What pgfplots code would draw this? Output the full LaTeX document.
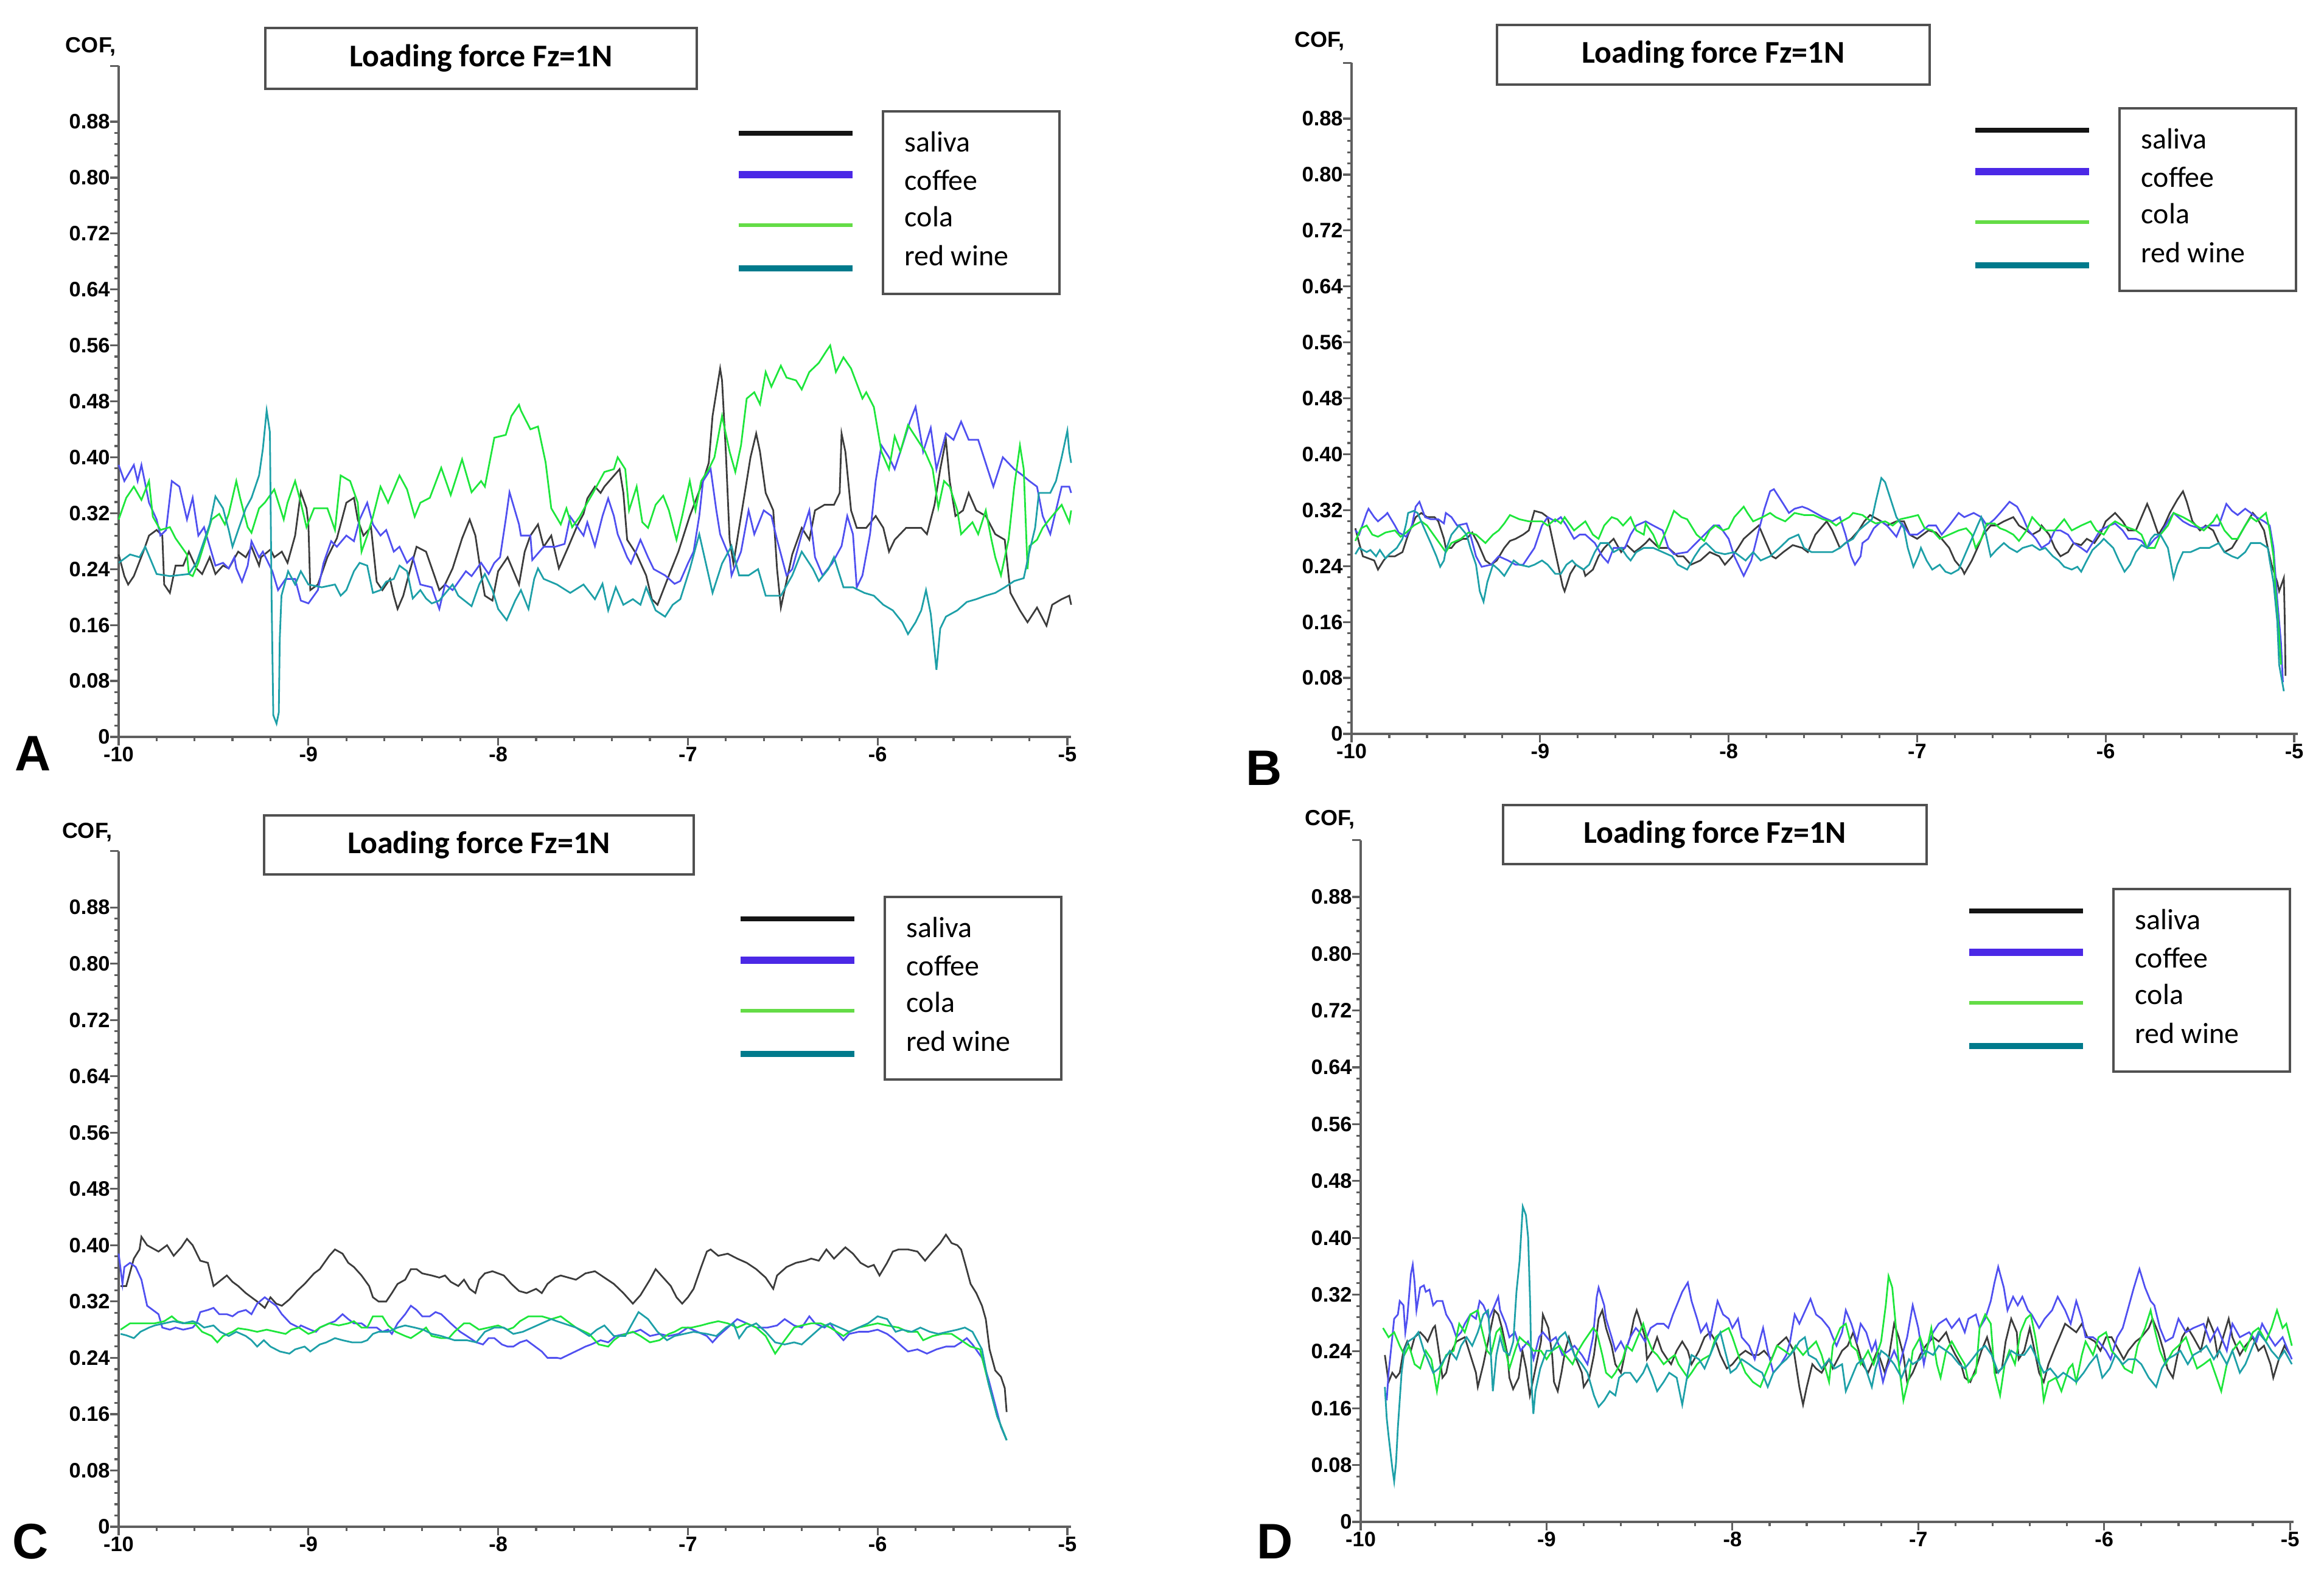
\documentclass[border=0pt]{standalone}
\usepackage{fontspec}
\setmainfont{Liberation Sans}
\newfontfamily\carlito{Carlito}
\usepackage{pgfplots}
\pgfplotsset{compat=1.18}
\definecolor{axgray}{RGB}{95,95,95}
\definecolor{boxgray}{RGB}{80,80,80}
\definecolor{cSal}{RGB}{60,60,60}
\definecolor{cCof}{RGB}{80,80,240}
\definecolor{cCola}{RGB}{30,230,60}
\definecolor{cWine}{RGB}{30,160,168}
\definecolor{lSal}{RGB}{20,20,20}
\definecolor{lCof}{RGB}{75,40,230}
\definecolor{lCola}{RGB}{100,220,70}
\definecolor{lWine}{RGB}{0,122,140}
\pgfplotsset{
  cof/.style={
    scale only axis, anchor=south west,
    xmin=-10, xmax=-4.98, ymin=0, ymax=0.96,
    axis lines=left,
    axis line style={-, draw=axgray, line width=1pt},
    every outer x axis line/.append style={-},
    every outer y axis line/.append style={-},
    every inner x axis line/.append style={-},
    every inner y axis line/.append style={-},
    xtick={-10,-9,-8,-7,-6,-5},
    xticklabels={-10,-9,-8,-7,-6,-5},
    ytick={0,0.08,0.16,0.24,0.32,0.40,0.48,0.56,0.64,0.72,0.80,0.88},
    yticklabels={0,0.08,0.16,0.24,0.32,0.40,0.48,0.56,0.64,0.72,0.80,0.88},
    extra y ticks={0.96}, extra y tick labels={},
    minor x tick num=4, minor y tick num=4,
    tick align=outside,
    major tick length=3.5pt, minor tick length=1.8pt,
    tick style={draw=axgray, line width=0.8pt},
    ticklabel style={font=\fontsize{8.6}{10}\selectfont\bfseries, text=black, inner sep=1pt},
    xticklabel style={yshift=0.6pt},
    yticklabel style={xshift=1.1pt},
    clip=false,
    every axis plot/.append style={line width=0.7pt, mark=none},
  }
}
\newcommand{\legendbox}[2]{%
  \begin{scope}[shift={(#1,#2)}]
    \draw[boxgray, line width=0.8pt] (0,0) rectangle (290,300);
    \draw[lSal, line width=2pt] (-237,36) -- (-50,36);
    \draw[lCof, line width=3.2pt] (-237,104) -- (-50,104);
    \draw[lCola, line width=1.5pt] (-237,187) -- (-50,187);
    \draw[lWine, line width=2.5pt] (-237,258) -- (-50,258);
    \node[anchor=base west, inner sep=0pt, font=\carlito\fontsize{12}{14}\selectfont] at (35,67) {saliva};
    \node[anchor=base west, inner sep=0pt, font=\carlito\fontsize{12}{14}\selectfont] at (35,130) {coffee};
    \node[anchor=base west, inner sep=0pt, font=\carlito\fontsize{12}{14}\selectfont] at (35,190) {cola};
    \node[anchor=base west, inner sep=0pt, font=\carlito\fontsize{12}{14}\selectfont] at (35,254) {red wine};
  \end{scope}}
\newcommand{\titlebox}[4]{%
  \draw[boxgray, line width=0.9pt] (#1,#2) rectangle (#3,#4);
  \node[font=\carlito\bfseries\fontsize{13}{15}\selectfont] at ({(#1+#3)/2},{(#2+#4)/2}) {Loading force Fz=1N};}
\begin{document}
\begin{tikzpicture}
\useasboundingbox (0,0) rectangle (954.75pt,652pt);
% ---------------- A ----------------
\begin{axis}[cof, at={(48.75pt,349.25pt)}, width=391.3pt, height=275.7pt]
\addplot[cSal] coordinates {(-10,0.261)(-9.97,0.230)(-9.95,0.218)(-9.92,0.230)(-9.87,0.265)(-9.84,0.288)(-9.80,0.296)(-9.77,0.288)(-9.76,0.218)(-9.73,0.206)(-9.70,0.245)(-9.66,0.245)(-9.63,0.265)(-9.59,0.241)(-9.56,0.233)(-9.52,0.257)(-9.49,0.233)(-9.45,0.245)(-9.42,0.241)(-9.37,0.265)(-9.33,0.257)(-9.30,0.272)(-9.26,0.245)(-9.25,0.257)(-9.20,0.268)(-9.18,0.257)(-9.14,0.265)(-9.11,0.249)(-9.07,0.288)(-9.04,0.350)(-9.01,0.327)(-9.00,0.304)(-8.99,0.210)(-8.95,0.218)(-8.90,0.257)(-8.85,0.284)(-8.80,0.335)(-8.76,0.342)(-8.74,0.311)(-8.71,0.288)(-8.67,0.300)(-8.64,0.222)(-8.61,0.210)(-8.57,0.226)(-8.55,0.202)(-8.53,0.183)(-8.50,0.202)(-8.47,0.233)(-8.43,0.272)(-8.38,0.265)(-8.33,0.226)(-8.31,0.210)(-8.28,0.218)(-8.24,0.241)(-8.19,0.284)(-8.15,0.311)(-8.12,0.288)(-8.09,0.233)(-8.07,0.202)(-8.03,0.195)(-8.00,0.237)(-7.95,0.257)(-7.89,0.218)(-7.86,0.265)(-7.83,0.288)(-7.79,0.304)(-7.76,0.272)(-7.72,0.288)(-7.68,0.241)(-7.63,0.272)(-7.58,0.304)(-7.55,0.319)(-7.53,0.341)(-7.49,0.358)(-7.46,0.349)(-7.44,0.358)(-7.36,0.383)(-7.34,0.349)(-7.32,0.282)(-7.27,0.261)(-7.22,0.231)(-7.19,0.197)(-7.16,0.189)(-7.10,0.231)(-7.05,0.265)(-6.99,0.316)(-6.92,0.366)(-6.89,0.392)(-6.87,0.459)(-6.84,0.510)(-6.83,0.527)(-6.82,0.510)(-6.80,0.408)(-6.78,0.282)(-6.76,0.248)(-6.73,0.299)(-6.70,0.349)(-6.67,0.400)(-6.64,0.434)(-6.62,0.408)(-6.59,0.349)(-6.55,0.324)(-6.53,0.240)(-6.51,0.185)(-6.48,0.223)(-6.45,0.261)(-6.40,0.299)(-6.36,0.282)(-6.33,0.324)(-6.28,0.332)(-6.23,0.332)(-6.20,0.349)(-6.19,0.434)(-6.17,0.408)(-6.14,0.324)(-6.11,0.299)(-6.06,0.299)(-6.01,0.316)(-5.97,0.299)(-5.94,0.265)(-5.91,0.282)(-5.85,0.299)(-5.77,0.299)(-5.74,0.290)(-5.70,0.332)(-5.67,0.383)(-5.64,0.425)(-5.62,0.366)(-5.59,0.316)(-5.55,0.324)(-5.52,0.349)(-5.48,0.324)(-5.43,0.316)(-5.38,0.290)(-5.33,0.282)(-5.30,0.206)(-5.25,0.181)(-5.21,0.164)(-5.16,0.185)(-5.11,0.159)(-5.08,0.189)(-5.03,0.197)(-4.99,0.202)(-4.98,0.189)};
\addplot[cCof] coordinates {(-10,0.389)(-9.97,0.366)(-9.92,0.389)(-9.90,0.366)(-9.88,0.389)(-9.84,0.335)(-9.80,0.311)(-9.78,0.288)(-9.75,0.296)(-9.72,0.366)(-9.68,0.358)(-9.64,0.311)(-9.61,0.342)(-9.58,0.288)(-9.55,0.300)(-9.49,0.245)(-9.45,0.249)(-9.42,0.241)(-9.39,0.257)(-9.38,0.241)(-9.35,0.222)(-9.32,0.245)(-9.30,0.280)(-9.26,0.257)(-9.24,0.265)(-9.19,0.237)(-9.16,0.210)(-9.12,0.226)(-9.07,0.226)(-9.04,0.195)(-9.00,0.191)(-8.95,0.210)(-8.92,0.249)(-8.88,0.280)(-8.85,0.272)(-8.80,0.288)(-8.76,0.280)(-8.73,0.311)(-8.69,0.335)(-8.66,0.304)(-8.62,0.288)(-8.59,0.296)(-8.55,0.265)(-8.52,0.272)(-8.48,0.249)(-8.45,0.257)(-8.41,0.218)(-8.35,0.214)(-8.31,0.183)(-8.28,0.218)(-8.24,0.210)(-8.17,0.237)(-8.14,0.230)(-8.09,0.249)(-8.05,0.233)(-8.02,0.249)(-7.99,0.257)(-7.96,0.311)(-7.94,0.350)(-7.89,0.304)(-7.88,0.288)(-7.83,0.288)(-7.82,0.253)(-7.76,0.272)(-7.70,0.272)(-7.65,0.276)(-7.62,0.315)(-7.55,0.288)(-7.53,0.307)(-7.49,0.273)(-7.45,0.316)(-7.42,0.341)(-7.39,0.316)(-7.37,0.290)(-7.32,0.257)(-7.30,0.248)(-7.25,0.282)(-7.21,0.257)(-7.18,0.240)(-7.12,0.231)(-7.07,0.219)(-7.04,0.223)(-7.00,0.248)(-6.97,0.265)(-6.94,0.316)(-6.92,0.366)(-6.88,0.383)(-6.85,0.324)(-6.83,0.290)(-6.78,0.257)(-6.77,0.231)(-6.72,0.265)(-6.68,0.324)(-6.65,0.290)(-6.60,0.324)(-6.56,0.316)(-6.53,0.282)(-6.48,0.231)(-6.45,0.240)(-6.40,0.290)(-6.36,0.324)(-6.33,0.257)(-6.29,0.231)(-6.24,0.248)(-6.19,0.273)(-6.16,0.316)(-6.13,0.290)(-6.11,0.214)(-6.08,0.231)(-6.04,0.290)(-6.01,0.366)(-5.98,0.417)(-5.94,0.400)(-5.91,0.383)(-5.86,0.425)(-5.83,0.451)(-5.80,0.472)(-5.76,0.408)(-5.72,0.442)(-5.69,0.383)(-5.64,0.434)(-5.60,0.425)(-5.56,0.451)(-5.52,0.425)(-5.47,0.425)(-5.42,0.383)(-5.39,0.358)(-5.34,0.400)(-5.28,0.383)(-5.24,0.375)(-5.20,0.366)(-5.16,0.358)(-5.13,0.316)(-5.09,0.290)(-5.06,0.324)(-5.03,0.358)(-4.99,0.358)(-4.98,0.349)};
\addplot[cCola] coordinates {(-10,0.311)(-9.96,0.342)(-9.92,0.358)(-9.88,0.339)(-9.84,0.366)(-9.82,0.315)(-9.78,0.296)(-9.73,0.300)(-9.70,0.284)(-9.64,0.261)(-9.63,0.233)(-9.61,0.230)(-9.58,0.249)(-9.54,0.284)(-9.51,0.311)(-9.47,0.319)(-9.44,0.304)(-9.42,0.319)(-9.38,0.366)(-9.36,0.342)(-9.32,0.300)(-9.30,0.292)(-9.26,0.327)(-9.23,0.335)(-9.18,0.354)(-9.13,0.311)(-9.11,0.335)(-9.07,0.366)(-9.04,0.335)(-9.01,0.300)(-8.97,0.327)(-8.90,0.327)(-8.86,0.296)(-8.83,0.374)(-8.78,0.366)(-8.74,0.335)(-8.72,0.265)(-8.69,0.288)(-8.66,0.315)(-8.62,0.358)(-8.58,0.335)(-8.52,0.374)(-8.48,0.354)(-8.44,0.315)(-8.41,0.335)(-8.36,0.342)(-8.30,0.385)(-8.25,0.346)(-8.19,0.397)(-8.14,0.350)(-8.09,0.366)(-8.07,0.358)(-8.02,0.428)(-7.96,0.432)(-7.93,0.459)(-7.89,0.475)(-7.88,0.467)(-7.83,0.440)(-7.79,0.444)(-7.75,0.393)(-7.72,0.327)(-7.67,0.304)(-7.64,0.327)(-7.61,0.300)(-7.57,0.315)(-7.53,0.335)(-7.50,0.349)(-7.44,0.379)(-7.39,0.383)(-7.37,0.400)(-7.33,0.383)(-7.31,0.324)(-7.27,0.358)(-7.24,0.307)(-7.21,0.299)(-7.17,0.332)(-7.13,0.345)(-7.10,0.324)(-7.06,0.282)(-7.03,0.316)(-6.99,0.366)(-6.96,0.324)(-6.93,0.366)(-6.89,0.383)(-6.86,0.400)(-6.82,0.459)(-6.78,0.408)(-6.75,0.379)(-6.72,0.417)(-6.69,0.484)(-6.65,0.493)(-6.62,0.476)(-6.59,0.522)(-6.56,0.501)(-6.51,0.531)(-6.48,0.514)(-6.43,0.510)(-6.40,0.497)(-6.36,0.522)(-6.31,0.535)(-6.27,0.552)(-6.25,0.560)(-6.22,0.522)(-6.18,0.543)(-6.14,0.527)(-6.08,0.484)(-6.06,0.493)(-6.02,0.472)(-5.98,0.408)(-5.94,0.383)(-5.91,0.430)(-5.88,0.408)(-5.84,0.446)(-5.79,0.425)(-5.75,0.408)(-5.71,0.383)(-5.68,0.328)(-5.65,0.366)(-5.62,0.358)(-5.58,0.324)(-5.56,0.290)(-5.50,0.307)(-5.47,0.290)(-5.43,0.324)(-5.40,0.282)(-5.38,0.257)(-5.35,0.231)(-5.31,0.282)(-5.28,0.358)(-5.25,0.417)(-5.23,0.383)(-5.21,0.240)(-5.20,0.273)(-5.16,0.282)(-5.13,0.299)(-5.08,0.316)(-5.03,0.332)(-4.99,0.307)(-4.98,0.324)};
\addplot[cWine] coordinates {(-10,0.249)(-9.94,0.261)(-9.89,0.257)(-9.86,0.272)(-9.80,0.233)(-9.73,0.230)(-9.63,0.233)(-9.59,0.249)(-9.52,0.304)(-9.49,0.344)(-9.45,0.327)(-9.42,0.296)(-9.40,0.272)(-9.37,0.296)(-9.33,0.327)(-9.30,0.342)(-9.26,0.374)(-9.24,0.412)(-9.22,0.467)(-9.203,0.436)(-9.194,0.198)(-9.185,0.031)(-9.168,0.019)(-9.156,0.035)(-9.151,0.140)(-9.142,0.202)(-9.107,0.237)(-9.07,0.218)(-9.04,0.237)(-9.00,0.218)(-8.93,0.214)(-8.86,0.218)(-8.83,0.202)(-8.80,0.210)(-8.76,0.237)(-8.73,0.249)(-8.69,0.245)(-8.66,0.206)(-8.62,0.210)(-8.59,0.222)(-8.55,0.226)(-8.52,0.245)(-8.48,0.237)(-8.45,0.198)(-8.41,0.210)(-8.38,0.198)(-8.35,0.191)(-8.31,0.195)(-8.24,0.218)(-8.21,0.202)(-8.14,0.187)(-8.10,0.218)(-8.07,0.233)(-8.03,0.210)(-8.00,0.183)(-7.955,0.167)(-7.91,0.195)(-7.88,0.210)(-7.84,0.183)(-7.81,0.226)(-7.79,0.241)(-7.76,0.226)(-7.69,0.218)(-7.62,0.206)(-7.55,0.218)(-7.49,0.197)(-7.45,0.219)(-7.42,0.181)(-7.38,0.214)(-7.34,0.189)(-7.29,0.197)(-7.25,0.189)(-7.22,0.214)(-7.17,0.181)(-7.12,0.172)(-7.08,0.189)(-7.04,0.197)(-6.99,0.240)(-6.94,0.290)(-6.87,0.206)(-6.82,0.248)(-6.77,0.273)(-6.73,0.231)(-6.68,0.231)(-6.63,0.240)(-6.59,0.202)(-6.51,0.202)(-6.45,0.231)(-6.40,0.265)(-6.34,0.240)(-6.31,0.223)(-6.26,0.240)(-6.23,0.257)(-6.18,0.214)(-6.13,0.214)(-6.07,0.206)(-6.02,0.202)(-5.97,0.189)(-5.92,0.181)(-5.87,0.164)(-5.84,0.147)(-5.80,0.164)(-5.77,0.181)(-5.745,0.210)(-5.72,0.176)(-5.69,0.096)(-5.67,0.155)(-5.64,0.172)(-5.58,0.181)(-5.53,0.193)(-5.48,0.197)(-5.43,0.202)(-5.38,0.206)(-5.33,0.214)(-5.28,0.223)(-5.23,0.227)(-5.20,0.265)(-5.17,0.299)(-5.15,0.349)(-5.09,0.349)(-5.06,0.366)(-5.03,0.400)(-5.00,0.438)(-4.99,0.408)(-4.98,0.392)};
\end{axis}
% ---------------- B ----------------
\begin{axis}[cof, at={(555.25pt,350.5pt)}, width=388.8pt, height=275.7pt]
\addplot[cSal] coordinates {(-9.98,0.294)(-9.96,0.273)(-9.94,0.254)(-9.91,0.251)(-9.88,0.248)(-9.86,0.235)(-9.83,0.248)(-9.81,0.254)(-9.77,0.254)(-9.73,0.260)(-9.70,0.285)(-9.66,0.310)(-9.63,0.316)(-9.60,0.310)(-9.56,0.310)(-9.54,0.304)(-9.51,0.279)(-9.50,0.266)(-9.47,0.266)(-9.45,0.273)(-9.41,0.279)(-9.39,0.279)(-9.36,0.288)(-9.33,0.273)(-9.29,0.248)(-9.26,0.242)(-9.23,0.248)(-9.19,0.266)(-9.16,0.276)(-9.13,0.279)(-9.09,0.285)(-9.06,0.291)(-9.03,0.319)(-8.99,0.316)(-8.96,0.310)(-8.94,0.285)(-8.91,0.248)(-8.88,0.211)(-8.87,0.204)(-8.84,0.229)(-8.81,0.242)(-8.77,0.235)(-8.76,0.226)(-8.72,0.235)(-8.69,0.254)(-8.66,0.266)(-8.61,0.279)(-8.57,0.260)(-8.54,0.270)(-8.50,0.260)(-8.47,0.266)(-8.44,0.273)(-8.42,0.279)(-8.37,0.266)(-8.32,0.266)(-8.27,0.254)(-8.24,0.254)(-8.20,0.242)(-8.15,0.248)(-8.10,0.260)(-8.05,0.254)(-8.02,0.242)(-7.98,0.254)(-7.95,0.266)(-7.92,0.279)(-7.87,0.291)(-7.84,0.298)(-7.81,0.279)(-7.77,0.254)(-7.75,0.251)(-7.71,0.260)(-7.66,0.270)(-7.61,0.266)(-7.58,0.260)(-7.54,0.285)(-7.48,0.304)(-7.45,0.291)(-7.41,0.266)(-7.38,0.273)(-7.35,0.279)(-7.31,0.291)(-7.28,0.304)(-7.25,0.313)(-7.23,0.310)(-7.19,0.304)(-7.16,0.298)(-7.11,0.304)(-7.07,0.304)(-7.04,0.285)(-7.00,0.279)(-6.97,0.285)(-6.94,0.291)(-6.90,0.288)(-6.87,0.279)(-6.83,0.266)(-6.80,0.248)(-6.76,0.235)(-6.75,0.229)(-6.71,0.248)(-6.68,0.266)(-6.65,0.285)(-6.61,0.298)(-6.58,0.298)(-6.54,0.304)(-6.49,0.310)(-6.46,0.298)(-6.42,0.291)(-6.39,0.285)(-6.35,0.291)(-6.34,0.298)(-6.30,0.285)(-6.27,0.266)(-6.24,0.254)(-6.20,0.260)(-6.17,0.273)(-6.13,0.270)(-6.10,0.279)(-6.06,0.273)(-6.03,0.285)(-6.00,0.304)(-5.95,0.316)(-5.91,0.304)(-5.88,0.291)(-5.84,0.291)(-5.81,0.310)(-5.78,0.329)(-5.76,0.316)(-5.72,0.285)(-5.69,0.298)(-5.66,0.316)(-5.62,0.335)(-5.59,0.347)(-5.57,0.332)(-5.54,0.304)(-5.50,0.291)(-5.47,0.298)(-5.43,0.291)(-5.40,0.273)(-5.37,0.260)(-5.33,0.266)(-5.30,0.279)(-5.26,0.298)(-5.22,0.316)(-5.20,0.310)(-5.16,0.291)(-5.14,0.266)(-5.12,0.242)(-5.09,0.217)(-5.08,0.204)(-5.055,0.223)(-5.05,0.161)(-5.046,0.083)};
\addplot[cCof] coordinates {(-9.98,0.291)(-9.96,0.285)(-9.92,0.316)(-9.91,0.322)(-9.88,0.310)(-9.86,0.304)(-9.82,0.313)(-9.81,0.316)(-9.77,0.298)(-9.75,0.288)(-9.71,0.282)(-9.68,0.298)(-9.66,0.325)(-9.64,0.332)(-9.61,0.310)(-9.58,0.307)(-9.54,0.307)(-9.51,0.301)(-9.50,0.316)(-9.47,0.310)(-9.44,0.298)(-9.39,0.301)(-9.37,0.285)(-9.34,0.254)(-9.31,0.239)(-9.26,0.242)(-9.22,0.254)(-9.17,0.248)(-9.13,0.242)(-9.09,0.242)(-9.06,0.254)(-9.03,0.266)(-8.99,0.298)(-8.96,0.310)(-8.92,0.304)(-8.89,0.310)(-8.86,0.298)(-8.82,0.279)(-8.79,0.285)(-8.76,0.285)(-8.71,0.273)(-8.67,0.254)(-8.64,0.245)(-8.61,0.266)(-8.55,0.266)(-8.52,0.285)(-8.49,0.298)(-8.44,0.304)(-8.40,0.298)(-8.35,0.291)(-8.32,0.266)(-8.29,0.257)(-8.22,0.260)(-8.15,0.279)(-8.08,0.298)(-8.05,0.298)(-8.00,0.279)(-7.97,0.254)(-7.92,0.226)(-7.88,0.248)(-7.84,0.291)(-7.81,0.322)(-7.78,0.347)(-7.76,0.350)(-7.71,0.329)(-7.68,0.316)(-7.65,0.322)(-7.61,0.325)(-7.58,0.322)(-7.54,0.316)(-7.50,0.310)(-7.45,0.304)(-7.41,0.310)(-7.38,0.285)(-7.35,0.254)(-7.33,0.242)(-7.30,0.254)(-7.29,0.273)(-7.26,0.279)(-7.23,0.294)(-7.19,0.304)(-7.16,0.298)(-7.11,0.282)(-7.08,0.301)(-7.04,0.285)(-7.00,0.285)(-6.97,0.291)(-6.94,0.298)(-6.90,0.298)(-6.87,0.285)(-6.83,0.298)(-6.78,0.316)(-6.75,0.310)(-6.70,0.316)(-6.66,0.310)(-6.63,0.298)(-6.59,0.307)(-6.56,0.316)(-6.51,0.332)(-6.47,0.325)(-6.44,0.310)(-6.41,0.291)(-6.37,0.279)(-6.34,0.266)(-6.30,0.273)(-6.27,0.291)(-6.24,0.291)(-6.20,0.285)(-6.17,0.273)(-6.13,0.266)(-6.10,0.260)(-6.07,0.273)(-6.03,0.291)(-5.98,0.298)(-5.95,0.301)(-5.91,0.291)(-5.88,0.279)(-5.84,0.279)(-5.81,0.276)(-5.78,0.266)(-5.74,0.279)(-5.71,0.285)(-5.67,0.304)(-5.64,0.316)(-5.59,0.304)(-5.55,0.298)(-5.50,0.294)(-5.45,0.298)(-5.40,0.298)(-5.36,0.329)(-5.33,0.319)(-5.30,0.313)(-5.26,0.322)(-5.23,0.316)(-5.20,0.310)(-5.16,0.304)(-5.13,0.298)(-5.11,0.266)(-5.09,0.192)(-5.07,0.130)(-5.06,0.074)};
\addplot[cCola] coordinates {(-9.98,0.276)(-9.95,0.294)(-9.92,0.298)(-9.89,0.285)(-9.86,0.282)(-9.82,0.288)(-9.77,0.291)(-9.74,0.282)(-9.71,0.288)(-9.67,0.298)(-9.63,0.304)(-9.60,0.298)(-9.55,0.279)(-9.50,0.260)(-9.47,0.273)(-9.42,0.279)(-9.38,0.288)(-9.34,0.285)(-9.29,0.273)(-9.25,0.285)(-9.22,0.291)(-9.19,0.301)(-9.16,0.313)(-9.11,0.307)(-9.06,0.304)(-8.99,0.304)(-8.96,0.298)(-8.92,0.307)(-8.89,0.301)(-8.87,0.310)(-8.82,0.291)(-8.76,0.304)(-8.72,0.285)(-8.69,0.279)(-8.66,0.298)(-8.62,0.310)(-8.59,0.307)(-8.56,0.298)(-8.52,0.310)(-8.49,0.291)(-8.45,0.285)(-8.44,0.301)(-8.40,0.285)(-8.37,0.266)(-8.32,0.298)(-8.29,0.319)(-8.25,0.310)(-8.22,0.307)(-8.17,0.285)(-8.13,0.276)(-8.10,0.291)(-8.07,0.298)(-8.03,0.291)(-8.00,0.294)(-7.97,0.310)(-7.92,0.325)(-7.90,0.316)(-7.87,0.304)(-7.82,0.310)(-7.78,0.316)(-7.75,0.310)(-7.70,0.304)(-7.65,0.316)(-7.60,0.313)(-7.55,0.313)(-7.50,0.307)(-7.46,0.304)(-7.43,0.298)(-7.40,0.304)(-7.36,0.310)(-7.34,0.316)(-7.29,0.313)(-7.26,0.307)(-7.22,0.301)(-7.17,0.304)(-7.13,0.298)(-7.09,0.307)(-7.04,0.310)(-6.995,0.313)(-6.96,0.294)(-6.92,0.291)(-6.88,0.279)(-6.83,0.285)(-6.78,0.291)(-6.74,0.294)(-6.71,0.285)(-6.69,0.266)(-6.66,0.279)(-6.63,0.301)(-6.59,0.301)(-6.56,0.294)(-6.53,0.291)(-6.49,0.285)(-6.46,0.276)(-6.42,0.291)(-6.39,0.310)(-6.35,0.298)(-6.32,0.291)(-6.27,0.291)(-6.22,0.307)(-6.18,0.291)(-6.13,0.298)(-6.08,0.304)(-6.05,0.291)(-6.01,0.285)(-5.98,0.298)(-5.95,0.304)(-5.91,0.298)(-5.84,0.291)(-5.81,0.285)(-5.78,0.266)(-5.74,0.266)(-5.71,0.285)(-5.67,0.298)(-5.64,0.316)(-5.59,0.310)(-5.55,0.304)(-5.52,0.298)(-5.48,0.291)(-5.43,0.304)(-5.41,0.313)(-5.37,0.291)(-5.33,0.279)(-5.30,0.279)(-5.26,0.298)(-5.23,0.310)(-5.20,0.304)(-5.15,0.316)(-5.13,0.291)(-5.11,0.254)(-5.10,0.207)(-5.08,0.142)(-5.07,0.099)};
\addplot[cWine] coordinates {(-9.98,0.257)(-9.96,0.266)(-9.92,0.260)(-9.90,0.263)(-9.87,0.254)(-9.85,0.263)(-9.82,0.251)(-9.80,0.257)(-9.76,0.266)(-9.73,0.279)(-9.71,0.301)(-9.70,0.316)(-9.67,0.319)(-9.65,0.316)(-9.61,0.291)(-9.58,0.273)(-9.55,0.254)(-9.53,0.239)(-9.51,0.248)(-9.50,0.263)(-9.47,0.285)(-9.43,0.298)(-9.39,0.285)(-9.37,0.266)(-9.34,0.242)(-9.32,0.204)(-9.30,0.189)(-9.28,0.217)(-9.25,0.242)(-9.22,0.235)(-9.19,0.226)(-9.17,0.235)(-9.14,0.248)(-9.11,0.242)(-9.06,0.239)(-9.03,0.242)(-8.99,0.248)(-8.96,0.242)(-8.92,0.229)(-8.89,0.229)(-8.86,0.242)(-8.83,0.248)(-8.81,0.242)(-8.77,0.235)(-8.74,0.242)(-8.71,0.260)(-8.68,0.273)(-8.64,0.273)(-8.61,0.260)(-8.57,0.266)(-8.54,0.254)(-8.52,0.248)(-8.49,0.260)(-8.45,0.266)(-8.40,0.266)(-8.35,0.260)(-8.30,0.254)(-8.27,0.242)(-8.22,0.235)(-8.18,0.254)(-8.15,0.266)(-8.12,0.273)(-8.07,0.260)(-8.02,0.257)(-7.97,0.260)(-7.91,0.248)(-7.87,0.260)(-7.83,0.248)(-7.78,0.254)(-7.73,0.266)(-7.68,0.279)(-7.63,0.285)(-7.60,0.266)(-7.56,0.260)(-7.50,0.260)(-7.45,0.260)(-7.41,0.266)(-7.38,0.273)(-7.34,0.279)(-7.31,0.291)(-7.28,0.298)(-7.24,0.307)(-7.22,0.332)(-7.19,0.366)(-7.17,0.360)(-7.14,0.335)(-7.11,0.310)(-7.07,0.294)(-7.05,0.266)(-7.02,0.239)(-6.995,0.254)(-6.98,0.266)(-6.95,0.248)(-6.92,0.235)(-6.88,0.242)(-6.85,0.232)(-6.82,0.229)(-6.78,0.235)(-6.75,0.254)(-6.71,0.279)(-6.68,0.298)(-6.66,0.310)(-6.64,0.291)(-6.61,0.254)(-6.58,0.263)(-6.54,0.273)(-6.51,0.266)(-6.47,0.260)(-6.44,0.266)(-6.39,0.270)(-6.35,0.263)(-6.32,0.266)(-6.28,0.254)(-6.25,0.248)(-6.22,0.239)(-6.18,0.235)(-6.15,0.239)(-6.13,0.232)(-6.10,0.248)(-6.07,0.263)(-6.03,0.273)(-6.01,0.279)(-5.96,0.266)(-5.93,0.248)(-5.90,0.232)(-5.87,0.242)(-5.84,0.260)(-5.81,0.270)(-5.78,0.266)(-5.76,0.279)(-5.74,0.285)(-5.71,0.285)(-5.67,0.266)(-5.64,0.223)(-5.62,0.242)(-5.59,0.260)(-5.55,0.260)(-5.50,0.266)(-5.45,0.266)(-5.40,0.273)(-5.37,0.260)(-5.33,0.254)(-5.30,0.251)(-5.26,0.260)(-5.23,0.273)(-5.18,0.273)(-5.14,0.266)(-5.13,0.248)(-5.11,0.217)(-5.09,0.161)(-5.08,0.099)(-5.055,0.061)};
\end{axis}
% ---------------- C ----------------
\begin{axis}[cof, at={(48.75pt,24.75pt)}, width=391.3pt, height=277.6pt]
\addplot[cSal] coordinates {(-9.99,0.342)(-9.96,0.342)(-9.92,0.381)(-9.89,0.394)(-9.88,0.412)(-9.85,0.400)(-9.81,0.394)(-9.79,0.391)(-9.745,0.400)(-9.71,0.385)(-9.67,0.397)(-9.64,0.409)(-9.61,0.400)(-9.57,0.378)(-9.53,0.375)(-9.50,0.342)(-9.43,0.357)(-9.40,0.348)(-9.37,0.342)(-9.33,0.332)(-9.30,0.326)(-9.27,0.320)(-9.23,0.311)(-9.20,0.326)(-9.17,0.317)(-9.14,0.314)(-9.10,0.323)(-9.06,0.335)(-9.02,0.345)(-8.97,0.360)(-8.94,0.366)(-8.89,0.385)(-8.86,0.394)(-8.82,0.388)(-8.79,0.375)(-8.76,0.369)(-8.72,0.357)(-8.68,0.342)(-8.66,0.326)(-8.63,0.320)(-8.59,0.320)(-8.56,0.332)(-8.53,0.345)(-8.49,0.351)(-8.46,0.366)(-8.43,0.366)(-8.40,0.360)(-8.35,0.357)(-8.31,0.354)(-8.28,0.357)(-8.25,0.348)(-8.21,0.342)(-8.18,0.351)(-8.15,0.338)(-8.12,0.332)(-8.10,0.351)(-8.07,0.360)(-8.03,0.363)(-8.00,0.360)(-7.97,0.357)(-7.93,0.345)(-7.89,0.335)(-7.85,0.332)(-7.80,0.338)(-7.77,0.332)(-7.74,0.345)(-7.70,0.354)(-7.67,0.357)(-7.59,0.351)(-7.54,0.360)(-7.49,0.363)(-7.44,0.354)(-7.39,0.345)(-7.34,0.332)(-7.29,0.317)(-7.25,0.329)(-7.20,0.351)(-7.17,0.366)(-7.13,0.354)(-7.09,0.342)(-7.06,0.326)(-7.03,0.317)(-7.00,0.326)(-6.97,0.338)(-6.93,0.369)(-6.90,0.391)(-6.88,0.394)(-6.84,0.385)(-6.79,0.388)(-6.74,0.381)(-6.69,0.375)(-6.64,0.366)(-6.59,0.354)(-6.55,0.338)(-6.53,0.357)(-6.48,0.369)(-6.43,0.375)(-6.38,0.378)(-6.35,0.381)(-6.31,0.378)(-6.27,0.394)(-6.23,0.381)(-6.17,0.397)(-6.13,0.388)(-6.09,0.375)(-6.05,0.369)(-6.02,0.372)(-5.99,0.357)(-5.95,0.375)(-5.92,0.391)(-5.89,0.394)(-5.84,0.394)(-5.79,0.391)(-5.75,0.378)(-5.71,0.391)(-5.67,0.403)(-5.64,0.415)(-5.61,0.403)(-5.58,0.400)(-5.56,0.394)(-5.54,0.375)(-5.51,0.345)(-5.48,0.332)(-5.45,0.314)(-5.43,0.295)(-5.41,0.252)(-5.38,0.222)(-5.35,0.213)(-5.33,0.197)(-5.32,0.163)};
\addplot[cCof] coordinates {(-10,0.388)(-9.98,0.345)(-9.97,0.369)(-9.94,0.375)(-9.91,0.369)(-9.88,0.351)(-9.85,0.314)(-9.82,0.308)(-9.79,0.302)(-9.77,0.283)(-9.73,0.280)(-9.70,0.283)(-9.66,0.280)(-9.61,0.283)(-9.59,0.289)(-9.57,0.305)(-9.53,0.308)(-9.50,0.311)(-9.47,0.302)(-9.43,0.302)(-9.40,0.299)(-9.37,0.305)(-9.33,0.308)(-9.30,0.302)(-9.27,0.317)(-9.23,0.326)(-9.20,0.320)(-9.17,0.314)(-9.14,0.302)(-9.095,0.289)(-9.05,0.283)(-9.04,0.286)(-8.99,0.280)(-8.96,0.277)(-8.94,0.283)(-8.89,0.289)(-8.86,0.292)(-8.82,0.302)(-8.79,0.295)(-8.76,0.289)(-8.72,0.289)(-8.69,0.283)(-8.64,0.283)(-8.61,0.277)(-8.58,0.280)(-8.56,0.274)(-8.53,0.289)(-8.49,0.302)(-8.46,0.314)(-8.43,0.308)(-8.40,0.299)(-8.36,0.299)(-8.33,0.305)(-8.30,0.302)(-8.25,0.289)(-8.20,0.277)(-8.165,0.271)(-8.115,0.262)(-8.08,0.259)(-8.05,0.268)(-8.02,0.268)(-7.98,0.259)(-7.95,0.256)(-7.92,0.256)(-7.885,0.262)(-7.85,0.265)(-7.82,0.259)(-7.77,0.249)(-7.74,0.240)(-7.69,0.240)(-7.67,0.239)(-7.57,0.252)(-7.54,0.256)(-7.51,0.259)(-7.46,0.265)(-7.42,0.262)(-7.38,0.271)(-7.33,0.274)(-7.28,0.277)(-7.25,0.280)(-7.20,0.271)(-7.15,0.274)(-7.10,0.271)(-7.05,0.274)(-7.00,0.283)(-6.95,0.277)(-6.90,0.271)(-6.87,0.262)(-6.84,0.271)(-6.79,0.283)(-6.74,0.295)(-6.69,0.289)(-6.64,0.283)(-6.58,0.283)(-6.53,0.286)(-6.49,0.295)(-6.44,0.286)(-6.40,0.283)(-6.36,0.299)(-6.33,0.289)(-6.28,0.283)(-6.25,0.289)(-6.22,0.277)(-6.18,0.265)(-6.15,0.274)(-6.10,0.277)(-6.05,0.277)(-6.00,0.280)(-5.95,0.274)(-5.92,0.268)(-5.87,0.256)(-5.84,0.249)(-5.79,0.252)(-5.74,0.246)(-5.69,0.252)(-5.64,0.256)(-5.595,0.256)(-5.56,0.262)(-5.53,0.268)(-5.50,0.259)(-5.45,0.240)(-5.415,0.209)(-5.38,0.173)(-5.35,0.142)(-5.32,0.123)};
\addplot[cCola] coordinates {(-9.99,0.280)(-9.94,0.289)(-9.88,0.289)(-9.81,0.289)(-9.76,0.292)(-9.72,0.299)(-9.69,0.292)(-9.65,0.289)(-9.60,0.289)(-9.56,0.277)(-9.51,0.271)(-9.48,0.262)(-9.45,0.271)(-9.40,0.277)(-9.37,0.282)(-9.32,0.280)(-9.27,0.277)(-9.22,0.280)(-9.17,0.277)(-9.12,0.274)(-9.09,0.280)(-9.05,0.283)(-9.00,0.274)(-8.97,0.277)(-8.94,0.283)(-8.89,0.289)(-8.84,0.286)(-8.79,0.289)(-8.76,0.292)(-8.72,0.283)(-8.69,0.283)(-8.66,0.299)(-8.61,0.299)(-8.58,0.286)(-8.54,0.277)(-8.49,0.271)(-8.46,0.268)(-8.41,0.277)(-8.38,0.283)(-8.35,0.271)(-8.30,0.268)(-8.26,0.268)(-8.23,0.277)(-8.18,0.289)(-8.15,0.289)(-8.10,0.280)(-8.05,0.283)(-8.00,0.286)(-7.95,0.280)(-7.92,0.283)(-7.885,0.292)(-7.84,0.299)(-7.77,0.299)(-7.72,0.295)(-7.67,0.299)(-7.59,0.283)(-7.52,0.274)(-7.47,0.259)(-7.42,0.256)(-7.39,0.265)(-7.36,0.271)(-7.29,0.277)(-7.25,0.271)(-7.20,0.262)(-7.15,0.265)(-7.10,0.274)(-7.07,0.277)(-7.03,0.283)(-6.98,0.283)(-6.93,0.286)(-6.89,0.289)(-6.84,0.292)(-6.79,0.289)(-6.74,0.283)(-6.69,0.289)(-6.64,0.283)(-6.59,0.271)(-6.54,0.246)(-6.49,0.265)(-6.44,0.283)(-6.40,0.286)(-6.35,0.289)(-6.30,0.289)(-6.25,0.283)(-6.18,0.271)(-6.15,0.277)(-6.10,0.283)(-6.05,0.286)(-6.00,0.289)(-5.95,0.286)(-5.89,0.283)(-5.84,0.277)(-5.79,0.277)(-5.76,0.265)(-5.71,0.271)(-5.66,0.274)(-5.61,0.274)(-5.56,0.265)(-5.51,0.256)(-5.46,0.252)(-5.415,0.203)(-5.37,0.157)(-5.32,0.123)};
\addplot[cWine] coordinates {(-9.99,0.274)(-9.96,0.272)(-9.92,0.268)(-9.885,0.277)(-9.84,0.283)(-9.81,0.286)(-9.76,0.289)(-9.71,0.292)(-9.66,0.289)(-9.61,0.292)(-9.58,0.289)(-9.55,0.283)(-9.50,0.286)(-9.465,0.277)(-9.42,0.271)(-9.38,0.277)(-9.33,0.271)(-9.30,0.265)(-9.27,0.256)(-9.235,0.265)(-9.20,0.256)(-9.15,0.249)(-9.10,0.246)(-9.07,0.252)(-9.02,0.256)(-8.99,0.249)(-8.94,0.259)(-8.905,0.262)(-8.86,0.268)(-8.82,0.265)(-8.77,0.262)(-8.72,0.262)(-8.69,0.265)(-8.66,0.274)(-8.63,0.277)(-8.58,0.277)(-8.53,0.283)(-8.49,0.286)(-8.44,0.283)(-8.395,0.280)(-8.35,0.274)(-8.30,0.271)(-8.23,0.265)(-8.165,0.265)(-8.115,0.262)(-8.07,0.277)(-8.02,0.283)(-7.97,0.283)(-7.92,0.274)(-7.87,0.277)(-7.82,0.283)(-7.77,0.289)(-7.72,0.295)(-7.69,0.292)(-7.59,0.283)(-7.52,0.271)(-7.48,0.280)(-7.44,0.286)(-7.39,0.271)(-7.33,0.271)(-7.26,0.305)(-7.21,0.295)(-7.16,0.277)(-7.11,0.265)(-7.07,0.271)(-7.02,0.274)(-6.97,0.277)(-6.90,0.274)(-6.85,0.271)(-6.80,0.283)(-6.76,0.289)(-6.73,0.268)(-6.69,0.283)(-6.64,0.289)(-6.59,0.277)(-6.54,0.262)(-6.49,0.259)(-6.44,0.262)(-6.40,0.259)(-6.35,0.271)(-6.30,0.283)(-6.25,0.289)(-6.20,0.283)(-6.15,0.277)(-6.10,0.283)(-6.05,0.289)(-6.00,0.299)(-5.95,0.295)(-5.905,0.277)(-5.87,0.280)(-5.82,0.277)(-5.775,0.283)(-5.725,0.277)(-5.68,0.274)(-5.63,0.277)(-5.58,0.280)(-5.54,0.283)(-5.50,0.277)(-5.45,0.252)(-5.415,0.203)(-5.37,0.157)(-5.32,0.123)};
\end{axis}
% ---------------- D ----------------
\begin{axis}[cof, at={(559pt,26.75pt)}, width=383.3pt, height=280.1pt]
\addplot[cSal] coordinates {(-9.87,0.235)(-9.85,0.197)(-9.83,0.210)(-9.81,0.203)(-9.79,0.210)(-9.77,0.241)(-9.75,0.254)(-9.73,0.241)(-9.71,0.260)(-9.68,0.267)(-9.655,0.260)(-9.64,0.254)(-9.61,0.273)(-9.60,0.276)(-9.58,0.241)(-9.56,0.203)(-9.54,0.210)(-9.52,0.235)(-9.485,0.254)(-9.44,0.260)(-9.41,0.235)(-9.38,0.210)(-9.37,0.190)(-9.34,0.222)(-9.31,0.260)(-9.28,0.298)(-9.26,0.292)(-9.24,0.273)(-9.21,0.235)(-9.20,0.203)(-9.18,0.187)(-9.15,0.203)(-9.13,0.241)(-9.11,0.216)(-9.09,0.178)(-9.07,0.203)(-9.03,0.254)(-9.02,0.292)(-8.99,0.273)(-8.97,0.235)(-8.96,0.197)(-8.94,0.184)(-8.92,0.210)(-8.90,0.241)(-8.88,0.260)(-8.85,0.235)(-8.81,0.210)(-8.80,0.190)(-8.77,0.203)(-8.745,0.235)(-8.72,0.286)(-8.70,0.298)(-8.68,0.273)(-8.65,0.248)(-8.63,0.222)(-8.60,0.210)(-8.575,0.241)(-8.55,0.260)(-8.53,0.286)(-8.515,0.298)(-8.50,0.286)(-8.47,0.260)(-8.46,0.229)(-8.43,0.241)(-8.405,0.260)(-8.38,0.241)(-8.35,0.229)(-8.33,0.222)(-8.30,0.241)(-8.27,0.254)(-8.24,0.241)(-8.22,0.222)(-8.18,0.241)(-8.15,0.260)(-8.12,0.267)(-8.09,0.254)(-8.065,0.235)(-8.03,0.216)(-8.00,0.222)(-7.96,0.235)(-7.93,0.241)(-7.895,0.235)(-7.86,0.235)(-7.83,0.241)(-7.79,0.229)(-7.76,0.248)(-7.71,0.260)(-7.67,0.241)(-7.64,0.190)(-7.62,0.165)(-7.60,0.190)(-7.57,0.222)(-7.55,0.216)(-7.52,0.210)(-7.48,0.229)(-7.46,0.216)(-7.41,0.241)(-7.38,0.248)(-7.35,0.267)(-7.32,0.241)(-7.30,0.222)(-7.27,0.210)(-7.25,0.222)(-7.22,0.241)(-7.18,0.210)(-7.16,0.229)(-7.13,0.279)(-7.105,0.260)(-7.08,0.235)(-7.06,0.197)(-7.03,0.210)(-6.99,0.235)(-6.96,0.248)(-6.92,0.260)(-6.89,0.254)(-6.85,0.267)(-6.825,0.248)(-6.80,0.235)(-6.77,0.222)(-6.75,0.203)(-6.72,0.197)(-6.69,0.216)(-6.66,0.241)(-6.63,0.260)(-6.61,0.241)(-6.58,0.210)(-6.55,0.216)(-6.53,0.254)(-6.50,0.286)(-6.47,0.267)(-6.46,0.229)(-6.43,0.241)(-6.40,0.273)(-6.38,0.248)(-6.35,0.210)(-6.325,0.197)(-6.30,0.222)(-6.26,0.248)(-6.24,0.260)(-6.21,0.279)(-6.18,0.273)(-6.15,0.267)(-6.12,0.279)(-6.09,0.260)(-6.05,0.254)(-6.02,0.241)(-5.99,0.260)(-5.96,0.260)(-5.92,0.241)(-5.895,0.229)(-5.87,0.241)(-5.83,0.254)(-5.80,0.260)(-5.76,0.273)(-5.74,0.286)(-5.71,0.267)(-5.68,0.241)(-5.66,0.216)(-5.63,0.203)(-5.605,0.235)(-5.58,0.260)(-5.55,0.273)(-5.52,0.260)(-5.48,0.241)(-5.44,0.286)(-5.41,0.267)(-5.39,0.235)(-5.36,0.260)(-5.33,0.286)(-5.31,0.260)(-5.27,0.235)(-5.24,0.248)(-5.20,0.260)(-5.17,0.241)(-5.14,0.248)(-5.105,0.222)(-5.09,0.203)(-5.06,0.229)(-5.03,0.248)(-5.00,0.235)};
\addplot[cCof] coordinates {(-9.86,0.171)(-9.85,0.210)(-9.83,0.260)(-9.82,0.286)(-9.80,0.292)(-9.79,0.311)(-9.77,0.305)(-9.76,0.267)(-9.75,0.286)(-9.73,0.349)(-9.72,0.362)(-9.71,0.337)(-9.70,0.298)(-9.68,0.330)(-9.66,0.333)(-9.65,0.324)(-9.63,0.327)(-9.61,0.305)(-9.59,0.311)(-9.56,0.311)(-9.54,0.292)(-9.51,0.279)(-9.485,0.260)(-9.46,0.267)(-9.44,0.279)(-9.41,0.292)(-9.38,0.286)(-9.36,0.311)(-9.34,0.305)(-9.31,0.286)(-9.29,0.298)(-9.26,0.317)(-9.25,0.298)(-9.22,0.279)(-9.20,0.260)(-9.17,0.267)(-9.14,0.241)(-9.10,0.254)(-9.08,0.241)(-9.07,0.229)(-9.04,0.260)(-9.02,0.267)(-8.98,0.254)(-8.95,0.260)(-8.915,0.235)(-8.88,0.241)(-8.85,0.248)(-8.81,0.235)(-8.78,0.222)(-8.75,0.260)(-8.73,0.317)(-8.72,0.330)(-8.69,0.305)(-8.68,0.286)(-8.65,0.260)(-8.63,0.241)(-8.60,0.254)(-8.575,0.241)(-8.55,0.260)(-8.52,0.273)(-8.50,0.267)(-8.47,0.254)(-8.44,0.273)(-8.405,0.279)(-8.37,0.279)(-8.345,0.273)(-8.32,0.292)(-8.29,0.311)(-8.27,0.324)(-8.24,0.337)(-8.22,0.311)(-8.19,0.286)(-8.17,0.267)(-8.14,0.279)(-8.12,0.260)(-8.10,0.286)(-8.08,0.311)(-8.05,0.292)(-8.02,0.286)(-8.00,0.273)(-7.97,0.286)(-7.95,0.260)(-7.91,0.248)(-7.88,0.229)(-7.835,0.273)(-7.81,0.241)(-7.78,0.210)(-7.74,0.222)(-7.71,0.235)(-7.69,0.254)(-7.665,0.292)(-7.64,0.279)(-7.58,0.314)(-7.55,0.292)(-7.52,0.286)(-7.48,0.273)(-7.46,0.260)(-7.44,0.248)(-7.41,0.267)(-7.39,0.298)(-7.36,0.279)(-7.33,0.254)(-7.31,0.279)(-7.28,0.267)(-7.25,0.241)(-7.23,0.254)(-7.21,0.222)(-7.19,0.197)(-7.17,0.216)(-7.13,0.241)(-7.10,0.222)(-7.06,0.260)(-7.03,0.305)(-7.00,0.273)(-6.97,0.222)(-6.95,0.248)(-6.92,0.267)(-6.89,0.279)(-6.85,0.286)(-6.82,0.273)(-6.78,0.286)(-6.75,0.267)(-6.73,0.286)(-6.69,0.292)(-6.67,0.273)(-6.64,0.286)(-6.61,0.311)(-6.59,0.337)(-6.57,0.359)(-6.54,0.330)(-6.52,0.298)(-6.49,0.317)(-6.465,0.305)(-6.44,0.317)(-6.41,0.298)(-6.39,0.292)(-6.35,0.273)(-6.32,0.286)(-6.28,0.298)(-6.25,0.317)(-6.21,0.298)(-6.18,0.279)(-6.15,0.311)(-6.12,0.286)(-6.10,0.260)(-6.06,0.260)(-6.03,0.254)(-5.99,0.241)(-5.965,0.229)(-5.93,0.260)(-5.90,0.273)(-5.88,0.292)(-5.84,0.330)(-5.81,0.356)(-5.78,0.330)(-5.75,0.311)(-5.73,0.305)(-5.70,0.273)(-5.67,0.254)(-5.63,0.260)(-5.60,0.286)(-5.56,0.267)(-5.52,0.273)(-5.465,0.279)(-5.43,0.254)(-5.39,0.273)(-5.34,0.241)(-5.31,0.279)(-5.27,0.260)(-5.22,0.267)(-5.18,0.254)(-5.15,0.279)(-5.11,0.260)(-5.08,0.248)(-5.04,0.260)(-5.01,0.241)(-4.99,0.229)};
\addplot[cCola] coordinates {(-9.88,0.273)(-9.85,0.260)(-9.82,0.267)(-9.79,0.248)(-9.765,0.235)(-9.74,0.248)(-9.71,0.222)(-9.68,0.216)(-9.65,0.241)(-9.62,0.229)(-9.59,0.184)(-9.57,0.216)(-9.54,0.235)(-9.50,0.241)(-9.47,0.279)(-9.44,0.267)(-9.41,0.292)(-9.37,0.298)(-9.35,0.273)(-9.32,0.241)(-9.30,0.235)(-9.27,0.267)(-9.25,0.273)(-9.22,0.241)(-9.20,0.216)(-9.17,0.241)(-9.145,0.260)(-9.12,0.254)(-9.09,0.248)(-9.07,0.241)(-9.03,0.241)(-9.00,0.229)(-8.97,0.241)(-8.93,0.248)(-8.90,0.235)(-8.86,0.222)(-8.83,0.241)(-8.80,0.254)(-8.75,0.273)(-8.73,0.267)(-8.70,0.235)(-8.68,0.210)(-8.65,0.203)(-8.63,0.210)(-8.59,0.229)(-8.57,0.248)(-8.54,0.241)(-8.51,0.260)(-8.48,0.279)(-8.46,0.260)(-8.43,0.241)(-8.405,0.235)(-8.37,0.222)(-8.34,0.229)(-8.31,0.235)(-8.29,0.222)(-8.24,0.203)(-8.22,0.210)(-8.19,0.222)(-8.16,0.229)(-8.12,0.235)(-8.09,0.260)(-8.06,0.267)(-8.02,0.273)(-8.00,0.260)(-7.96,0.229)(-7.93,0.210)(-7.89,0.197)(-7.85,0.190)(-7.82,0.210)(-7.78,0.235)(-7.76,0.248)(-7.72,0.241)(-7.69,0.235)(-7.66,0.248)(-7.62,0.235)(-7.60,0.241)(-7.55,0.254)(-7.52,0.235)(-7.48,0.197)(-7.46,0.248)(-7.42,0.273)(-7.39,0.279)(-7.36,0.248)(-7.33,0.241)(-7.31,0.222)(-7.27,0.241)(-7.24,0.222)(-7.20,0.254)(-7.175,0.305)(-7.16,0.346)(-7.14,0.330)(-7.12,0.273)(-7.105,0.222)(-7.08,0.171)(-7.05,0.203)(-7.03,0.241)(-6.99,0.260)(-6.96,0.235)(-6.93,0.273)(-6.90,0.222)(-6.88,0.203)(-6.85,0.241)(-6.82,0.254)(-6.78,0.235)(-6.75,0.222)(-6.73,0.197)(-6.69,0.210)(-6.67,0.273)(-6.64,0.292)(-6.61,0.279)(-6.59,0.210)(-6.56,0.178)(-6.535,0.222)(-6.51,0.241)(-6.48,0.222)(-6.45,0.267)(-6.42,0.286)(-6.395,0.292)(-6.37,0.260)(-6.34,0.210)(-6.325,0.171)(-6.30,0.197)(-6.26,0.203)(-6.23,0.184)(-6.19,0.216)(-6.17,0.222)(-6.15,0.197)(-6.12,0.235)(-6.10,0.254)(-6.06,0.235)(-6.03,0.260)(-5.99,0.267)(-5.96,0.241)(-5.92,0.229)(-5.89,0.216)(-5.85,0.210)(-5.82,0.248)(-5.78,0.273)(-5.75,0.298)(-5.73,0.273)(-5.70,0.241)(-5.67,0.222)(-5.63,0.241)(-5.60,0.248)(-5.56,0.260)(-5.535,0.241)(-5.50,0.216)(-5.465,0.222)(-5.43,0.229)(-5.395,0.203)(-5.37,0.184)(-5.34,0.222)(-5.31,0.241)(-5.27,0.254)(-5.24,0.241)(-5.20,0.267)(-5.17,0.273)(-5.13,0.254)(-5.10,0.273)(-5.07,0.298)(-5.04,0.273)(-5.02,0.279)(-4.99,0.248)};
\addplot[cWine] coordinates {(-9.87,0.190)(-9.86,0.146)(-9.85,0.121)(-9.83,0.076)(-9.82,0.057)(-9.81,0.083)(-9.80,0.133)(-9.78,0.210)(-9.765,0.241)(-9.745,0.254)(-9.71,0.260)(-9.69,0.267)(-9.66,0.241)(-9.64,0.229)(-9.61,0.210)(-9.58,0.216)(-9.55,0.229)(-9.52,0.241)(-9.485,0.229)(-9.46,0.248)(-9.43,0.260)(-9.40,0.248)(-9.37,0.267)(-9.34,0.292)(-9.315,0.298)(-9.306,0.267)(-9.289,0.184)(-9.27,0.235)(-9.25,0.260)(-9.23,0.241)(-9.20,0.235)(-9.179,0.254)(-9.162,0.324)(-9.145,0.368)(-9.128,0.444)(-9.111,0.432)(-9.099,0.400)(-9.088,0.305)(-9.080,0.190)(-9.071,0.152)(-9.060,0.184)(-9.034,0.216)(-9.00,0.241)(-8.97,0.241)(-8.93,0.260)(-8.90,0.267)(-8.87,0.248)(-8.85,0.235)(-8.81,0.222)(-8.78,0.210)(-8.745,0.178)(-8.72,0.162)(-8.69,0.171)(-8.66,0.184)(-8.63,0.178)(-8.61,0.203)(-8.58,0.210)(-8.55,0.210)(-8.515,0.197)(-8.48,0.210)(-8.46,0.222)(-8.43,0.203)(-8.405,0.184)(-8.37,0.197)(-8.34,0.210)(-8.30,0.203)(-8.27,0.165)(-8.24,0.210)(-8.22,0.235)(-8.18,0.229)(-8.15,0.216)(-8.12,0.235)(-8.09,0.254)(-8.065,0.267)(-8.04,0.241)(-8.01,0.210)(-7.98,0.216)(-7.95,0.229)(-7.91,0.222)(-7.88,0.216)(-7.84,0.210)(-7.81,0.190)(-7.78,0.210)(-7.74,0.222)(-7.71,0.229)(-7.67,0.241)(-7.64,0.254)(-7.61,0.260)(-7.59,0.235)(-7.55,0.229)(-7.52,0.216)(-7.48,0.229)(-7.45,0.216)(-7.41,0.222)(-7.39,0.184)(-7.36,0.203)(-7.33,0.222)(-7.30,0.229)(-7.25,0.190)(-7.23,0.216)(-7.20,0.241)(-7.17,0.235)(-7.13,0.222)(-7.09,0.203)(-7.05,0.229)(-7.03,0.222)(-6.99,0.229)(-6.96,0.241)(-6.92,0.235)(-6.89,0.248)(-6.85,0.241)(-6.82,0.235)(-6.78,0.222)(-6.75,0.216)(-6.71,0.229)(-6.675,0.241)(-6.64,0.248)(-6.605,0.235)(-6.57,0.210)(-6.535,0.222)(-6.50,0.241)(-6.465,0.235)(-6.43,0.235)(-6.395,0.248)(-6.36,0.229)(-6.325,0.210)(-6.29,0.216)(-6.25,0.203)(-6.22,0.210)(-6.18,0.203)(-6.15,0.197)(-6.11,0.210)(-6.08,0.222)(-6.04,0.235)(-6.01,0.203)(-5.97,0.216)(-5.94,0.235)(-5.90,0.222)(-5.87,0.229)(-5.83,0.229)(-5.80,0.222)(-5.76,0.203)(-5.72,0.190)(-5.69,0.216)(-5.66,0.229)(-5.62,0.235)(-5.59,0.241)(-5.55,0.222)(-5.52,0.235)(-5.48,0.241)(-5.45,0.248)(-5.41,0.229)(-5.38,0.241)(-5.34,0.222)(-5.31,0.241)(-5.27,0.210)(-5.24,0.222)(-5.20,0.248)(-5.17,0.267)(-5.13,0.254)(-5.10,0.241)(-5.06,0.229)(-5.03,0.241)(-4.99,0.222)};
\end{axis}
% ---------------- annotations (pixel coordinates) ----------------
\begin{scope}[x=0.25pt,y=-0.25pt,yshift=652pt]
  \titlebox{436}{46}{1145}{146}
  \titlebox{2460}{41}{3171}{139}
  \titlebox{434}{1340}{1140}{1437}
  \titlebox{2470}{1323}{3166}{1420}
  \legendbox{1451}{183}
  \legendbox{3483}{178}
  \legendbox{1454}{1474}
  \legendbox{3473}{1461}
  \node[font=\bfseries\fontsize{9}{10}\selectfont] at (149,77) {COF,};
  \node[font=\bfseries\fontsize{9}{10}\selectfont] at (2168,68) {COF,};
  \node[font=\bfseries\fontsize{9}{10}\selectfont] at (143,1368) {COF,};
  \node[font=\bfseries\fontsize{9}{10}\selectfont] at (2185,1347) {COF,};
  \node[font=\bfseries\fontsize{20.5}{24}\selectfont] at (54,1238) {A};
  \node[font=\bfseries\fontsize{20.5}{24}\selectfont] at (2077,1262) {B};
  \node[font=\bfseries\fontsize{20.5}{24}\selectfont] at (50,2533) {C};
  \node[font=\bfseries\fontsize{20.5}{24}\selectfont] at (2095,2533) {D};
\end{scope}
\end{tikzpicture}
\end{document}
